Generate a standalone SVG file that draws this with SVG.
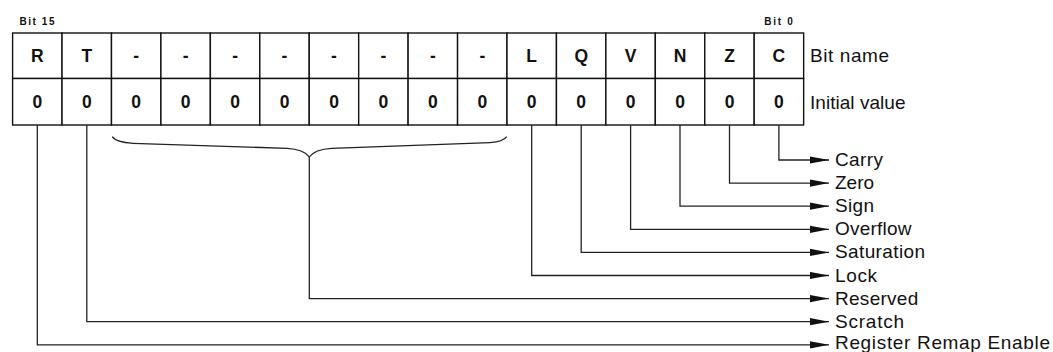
<svg xmlns="http://www.w3.org/2000/svg" width="1053" height="352" viewBox="0 0 1053 352">
<style>
.cell{fill:#fff;stroke:#111;stroke-width:1.4}
.b{font-family:"Liberation Sans",Arial,sans-serif;font-weight:bold;font-size:17.5px;fill:#111;text-anchor:middle}
.s{font-family:"Liberation Sans",Arial,sans-serif;font-weight:bold;font-size:10px;fill:#111}
.l{font-family:"Liberation Sans",Arial,sans-serif;font-size:19px;fill:#111}
.c{fill:none;stroke:#222;stroke-width:1.3}
</style>
<defs>
<marker id="ah" viewBox="0 0 19 8" refX="19" refY="4" markerWidth="19" markerHeight="8" markerUnits="userSpaceOnUse" orient="auto">
<path d="M0,0.4 L19,4 L0,7.6 Z" fill="#111"/>
</marker>
</defs>
<rect width="1053" height="352" fill="#fff"/>
<text class="s" x="19.5" y="25" textLength="35" lengthAdjust="spacing">Bit 15</text>
<text class="s" x="764.3" y="25" textLength="28.4" lengthAdjust="spacing">Bit 0</text>
<g id="register">
<g id="names">
<rect class="cell" x="12.6" y="33" width="49.44" height="45.5"/><text class="b" x="37.3" y="62">R</text>
<rect class="cell" x="62.04" y="33" width="49.44" height="45.5"/><text class="b" x="86.8" y="62">T</text>
<rect class="cell" x="111.48" y="33" width="49.44" height="45.5"/><text class="b" x="136.2" y="62">-</text>
<rect class="cell" x="160.92" y="33" width="49.44" height="45.5"/><text class="b" x="185.6" y="62">-</text>
<rect class="cell" x="210.36" y="33" width="49.44" height="45.5"/><text class="b" x="235.1" y="62">-</text>
<rect class="cell" x="259.8" y="33" width="49.44" height="45.5"/><text class="b" x="284.5" y="62">-</text>
<rect class="cell" x="309.24" y="33" width="49.44" height="45.5"/><text class="b" x="334" y="62">-</text>
<rect class="cell" x="358.68" y="33" width="49.44" height="45.5"/><text class="b" x="383.4" y="62">-</text>
<rect class="cell" x="408.12" y="33" width="49.44" height="45.5"/><text class="b" x="432.8" y="62">-</text>
<rect class="cell" x="457.56" y="33" width="49.44" height="45.5"/><text class="b" x="482.3" y="62">-</text>
<rect class="cell" x="507" y="33" width="49.44" height="45.5"/><text class="b" x="531.7" y="62">L</text>
<rect class="cell" x="556.44" y="33" width="49.44" height="45.5"/><text class="b" x="581.2" y="62">Q</text>
<rect class="cell" x="605.88" y="33" width="49.44" height="45.5"/><text class="b" x="630.6" y="62">V</text>
<rect class="cell" x="655.32" y="33" width="49.44" height="45.5"/><text class="b" x="680" y="62">N</text>
<rect class="cell" x="704.76" y="33" width="49.44" height="45.5"/><text class="b" x="729.5" y="62">Z</text>
<rect class="cell" x="754.2" y="33" width="49.44" height="45.5"/><text class="b" x="778.9" y="62">C</text>
</g>
<g id="values">
<rect class="cell" x="12.6" y="78.5" width="49.44" height="46.5"/><text class="b" x="37.3" y="108">0</text>
<rect class="cell" x="62.04" y="78.5" width="49.44" height="46.5"/><text class="b" x="86.8" y="108">0</text>
<rect class="cell" x="111.48" y="78.5" width="49.44" height="46.5"/><text class="b" x="136.2" y="108">0</text>
<rect class="cell" x="160.92" y="78.5" width="49.44" height="46.5"/><text class="b" x="185.6" y="108">0</text>
<rect class="cell" x="210.36" y="78.5" width="49.44" height="46.5"/><text class="b" x="235.1" y="108">0</text>
<rect class="cell" x="259.8" y="78.5" width="49.44" height="46.5"/><text class="b" x="284.5" y="108">0</text>
<rect class="cell" x="309.24" y="78.5" width="49.44" height="46.5"/><text class="b" x="334" y="108">0</text>
<rect class="cell" x="358.68" y="78.5" width="49.44" height="46.5"/><text class="b" x="383.4" y="108">0</text>
<rect class="cell" x="408.12" y="78.5" width="49.44" height="46.5"/><text class="b" x="432.8" y="108">0</text>
<rect class="cell" x="457.56" y="78.5" width="49.44" height="46.5"/><text class="b" x="482.3" y="108">0</text>
<rect class="cell" x="507" y="78.5" width="49.44" height="46.5"/><text class="b" x="531.7" y="108">0</text>
<rect class="cell" x="556.44" y="78.5" width="49.44" height="46.5"/><text class="b" x="581.2" y="108">0</text>
<rect class="cell" x="605.88" y="78.5" width="49.44" height="46.5"/><text class="b" x="630.6" y="108">0</text>
<rect class="cell" x="655.32" y="78.5" width="49.44" height="46.5"/><text class="b" x="680" y="108">0</text>
<rect class="cell" x="704.76" y="78.5" width="49.44" height="46.5"/><text class="b" x="729.5" y="108">0</text>
<rect class="cell" x="754.2" y="78.5" width="49.44" height="46.5"/><text class="b" x="778.9" y="108">0</text>
</g>
<text class="l" x="810" y="61.5" textLength="79" lengthAdjust="spacing">Bit name</text>
<text class="l" x="810" y="108.5" textLength="95.5" lengthAdjust="spacing">Initial value</text>
</g>
<g id="connectors">
<path class="c" d="M112.3,136.7 Q116,142.5 133,143.3 L287,148.3 Q304,149.2 309.3,157 Q314.6,149.2 331.7,148.3 L490,142.7 Q503,142 506.7,136.7"/>
<path class="c" marker-end="url(#ah)" d="M778.9,125 V160 H829"/>
<path class="c" marker-end="url(#ah)" d="M729.5,125 V183.1 H829"/>
<path class="c" marker-end="url(#ah)" d="M680,125 V206.2 H829"/>
<path class="c" marker-end="url(#ah)" d="M630.6,125 V229.3 H829"/>
<path class="c" marker-end="url(#ah)" d="M581.2,125 V252.4 H829"/>
<path class="c" marker-end="url(#ah)" d="M531.7,125 V275.5 H829"/>
<path class="c" marker-end="url(#ah)" d="M309.3,157 V298.6 H829"/>
<path class="c" marker-end="url(#ah)" d="M86.8,125 V321.7 H829"/>
<path class="c" marker-end="url(#ah)" d="M37.3,125 V344.8 H829"/>
</g>
<g id="labels">
<text class="l" x="835" y="166" textLength="48" lengthAdjust="spacing">Carry</text>
<text class="l" x="835" y="189.1" textLength="39" lengthAdjust="spacing">Zero</text>
<text class="l" x="835" y="212.2" textLength="39" lengthAdjust="spacing">Sign</text>
<text class="l" x="835" y="235.3" textLength="76.5" lengthAdjust="spacing">Overflow</text>
<text class="l" x="835" y="258.4" textLength="90" lengthAdjust="spacing">Saturation</text>
<text class="l" x="835" y="281.5" textLength="42" lengthAdjust="spacing">Lock</text>
<text class="l" x="835" y="304.6" textLength="83.3" lengthAdjust="spacing">Reserved</text>
<text class="l" x="835" y="327.7" textLength="69" lengthAdjust="spacing">Scratch</text>
<text class="l" x="835" y="349.3" textLength="215" lengthAdjust="spacing">Register Remap Enable</text>
</g>
</svg>
